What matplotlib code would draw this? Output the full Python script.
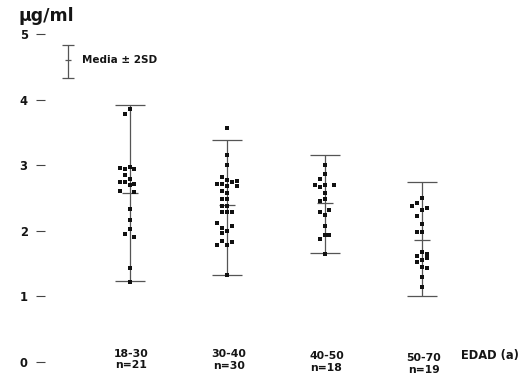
import matplotlib
matplotlib.use("Agg")
import matplotlib.pyplot as plt
import numpy as np

plt.rcParams['font.family'] = ['DejaVu Sans']
plt.rcParams['font.weight'] = 'bold'

# ---- data ----
categories = ["18-30", "30-40", "40-50", "50-70"]
n_labels = ["n=21", "n=30", "n=18", "n=19"]

g1_vals = [3.86, 3.78, 2.95, 2.94, 2.98, 2.94, 2.85, 2.74, 2.74, 2.79, 2.70,
           2.71, 2.61, 2.59, 2.33, 2.17, 2.02, 1.95, 1.90, 1.44, 1.22]
g1_cols = [0, -1, -2, -1, 0, 1, -1, -2, -1, 0, 0, 1, -2, 1, 0, 0, 0, -1, 1, 0, 0]

g2_vals = [3.56, 3.16, 3.00, 2.82, 2.72, 2.72, 2.77, 2.69, 2.74, 2.76, 2.69,
           2.60, 2.57, 2.49, 2.49, 2.38, 2.38, 2.29, 2.28, 2.28, 2.12, 2.05,
           2.07, 2.00, 1.96, 1.85, 1.79, 1.78, 1.83, 1.32]
g2_cols = [0, 0, 0, -1, -2, -1, 0, 0, 1, 2, 2, -1, 0, -1, 0, -1, 0, -1, 0, 1,
           -2, -1, 1, 0, -1, -1, -2, 0, 1, 0]

g3_vals = [3.00, 2.86, 2.79, 2.70, 2.66, 2.70, 2.70, 2.58, 2.49, 2.45, 2.29,
           2.32, 2.24, 2.07, 1.94, 1.94, 1.88, 1.64]
g3_cols = [0, 0, -1, -2, -1, 0, 2, 0, 0, -1, -1, 1, 0, 0, 0, 1, -1, 0]

g4_vals = [2.50, 2.42, 2.38, 2.32, 2.34, 2.23, 2.10, 1.98, 1.98, 1.68, 1.62,
           1.59, 1.55, 1.52, 1.45, 1.43, 1.30, 1.14, 1.65]
g4_cols = [0, -1, -2, 0, 1, -1, 0, -1, 0, 0, -1, 1, 0, -1, 0, 1, 0, 0, 1]

means = [2.58, 2.40, 2.42, 1.86]
upper = [3.91, 3.38, 3.16, 2.74]
lower = [1.24, 1.33, 1.66, 1.00]

y_ticks = [0, 1, 2, 3, 4, 5]

groups_vals = [g1_vals, g2_vals, g3_vals, g4_vals]
groups_cols = [g1_cols, g2_cols, g3_cols, g4_cols]

# ---- figure ----
W, H = 521, 391
fig = plt.figure(figsize=(W / 100, H / 100), dpi=100)
ax = fig.add_axes([45 / W, 0, 1 - 45 / W, 1])
ax.set_xlim(0.1333, 5.015)
ax.set_ylim(-0.442, 5.518)

line_c = '#555555'
pt_c = '#111111'
txt_c = '#151515'
col_step = 0.05

positions = np.arange(1, len(categories) + 1)
for i, pos in enumerate(positions):
    m = means[i]
    ax.errorbar([pos], [m], yerr=[[m - lower[i]], [upper[i] - m]],
                fmt='_', color=line_c, ecolor=line_c, elinewidth=0.9,
                capsize=11, capthick=0.9, markersize=11, mew=0.9, zorder=2)
    xs = pos + np.array(groups_cols[i]) * col_step
    ax.scatter(xs, groups_vals[i], marker='s', s=9, color=pt_c,
               linewidths=0, zorder=3)

# category labels
label_y = [0.04, 0.03, 0.0, -0.03]
for i, pos in enumerate(positions):
    ax.text(pos + 0.02, label_y[i], categories[i] + "\n" + n_labels[i],
            ha='center', va='center', fontsize=7.8, fontweight='bold',
            linespacing=1.2, color=txt_c)
ax.text(4.40, 0.10, "EDAD (a)", ha='left', va='center', fontsize=8.3,
        fontweight='bold', color=txt_c)

# legend
lx = 0.369
lm = 4.60
ax.errorbar([lx], [lm], yerr=[[lm - 4.33], [4.83 - lm]], fmt='_',
            color=line_c, ecolor=line_c, elinewidth=0.9, capsize=4,
            capthick=0.9, markersize=4, mew=0.9)
ax.text(lx + 0.14, lm, "Media \u00b1 2SD", ha='left', va='center',
        fontsize=7.5, fontweight='bold', color=txt_c)

# y unit label
ax.text(-0.14, 5.28, "\u00b5g/ml", ha='left', va='center', fontsize=12.5,
        fontweight='bold', color=txt_c)

# axes styling
for s in ax.spines.values():
    s.set_visible(False)
ax.set_yticks(y_ticks)
ax.set_yticklabels([str(t) for t in y_ticks], fontsize=8.3, fontweight='bold',
                   color=txt_c)
ax.tick_params(axis='y', direction='out', length=6.5, width=0.8,
               color='#444444', pad=6)
ax.set_xticks([])
ax.patch.set_alpha(0)

fig.savefig("out.png", dpi=100)
